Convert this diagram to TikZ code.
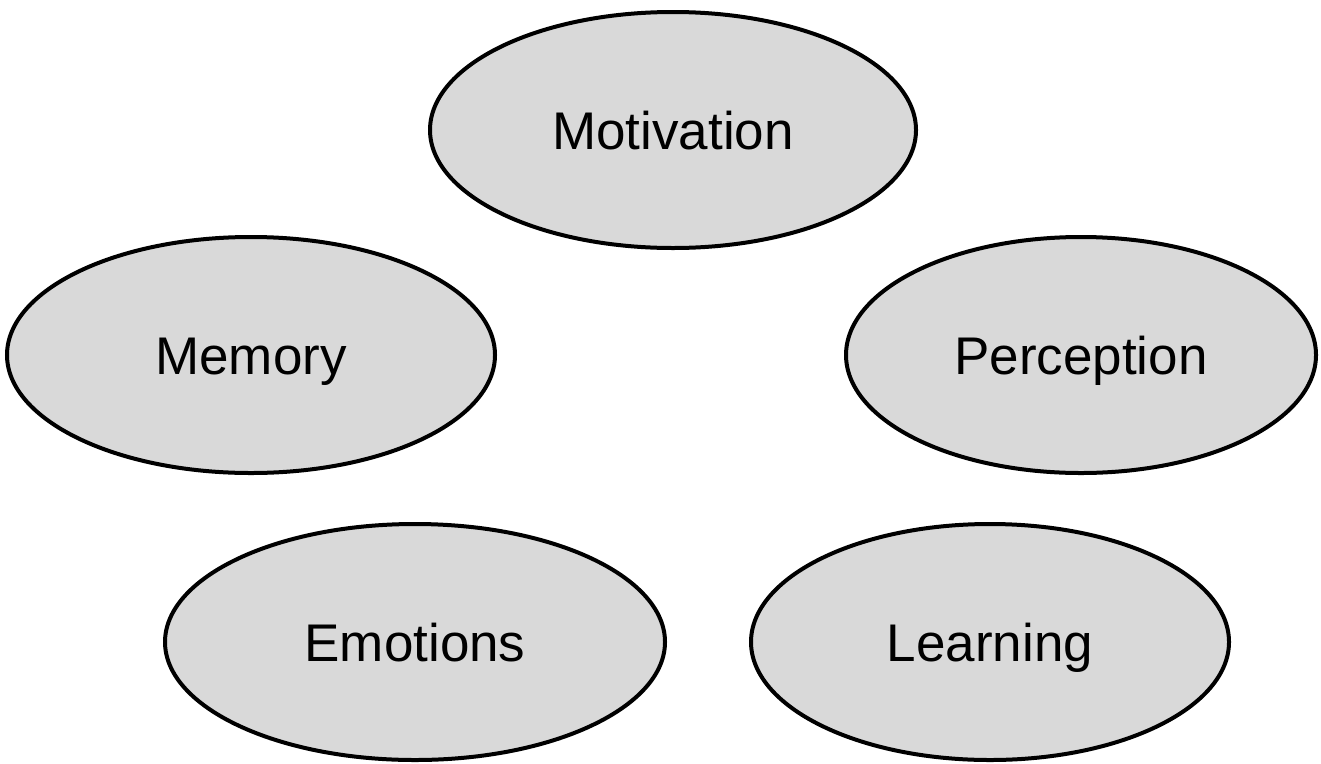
\documentclass[tikz,border=0pt]{standalone}
\usepackage{fontspec}
\setmainfont{Liberation Sans}
\usetikzlibrary{shapes.geometric}
\definecolor{bubblefill}{HTML}{D9D9D9}
\begin{document}
\begin{tikzpicture}[x=1pt,y=-1pt,
  bubble/.style={ellipse, draw=black, fill=bubblefill, line width=4pt,
    inner sep=0pt, minimum height=236pt,
    text height=38pt, text depth=0pt,
    font=\fontsize{53}{60}\selectfont}]
  \useasboundingbox (0,0) rectangle (1321,763);
  \node[bubble, minimum width=486pt] (motivation) at (673,130) {Motivation};
  \node[bubble, minimum width=488pt] (memory)     at (251,355) {Memory};
  \node[bubble, minimum width=470pt] (perception) at (1081,355) {Perception};
  \node[bubble, minimum width=500pt] (emotions)   at (415,642) {Emotions};
  \node[bubble, minimum width=478pt] (learning)   at (990,642) {Learning};
\end{tikzpicture}
\end{document}
